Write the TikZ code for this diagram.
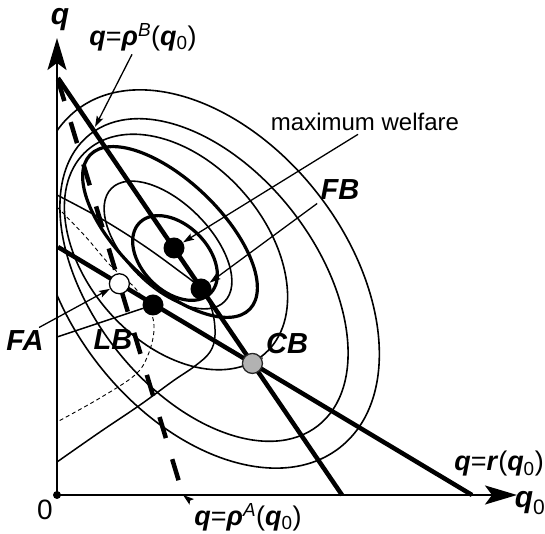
\documentclass[tikz,border=0pt]{standalone}
\usepackage{fontspec}
\setmainfont{Liberation Sans}
\usetikzlibrary{arrows.meta}
\newcommand{\qv}{\textbf{\textit{q}}}
\newcommand{\qz}{\textbf{\textit{q}}\textsubscript{0}}
\begin{document}
\begin{tikzpicture}[x=1pt,y=1pt,
  axis/.style={line width=2pt,-{Stealth[length=32pt,width=19pt,inset=7pt]}},
  resp/.style={line width=4.5pt},
  respA/.style={line width=4.5pt,dash pattern=on 22pt off 22pt},
  wel/.style={line width=1.6pt},
  welthick/.style={line width=3.2pt},
  iso/.style={line width=1.5pt},
  ptr/.style={line width=1.3pt,-{Stealth[length=11pt,width=7pt,inset=2pt]}},
  dotb/.style={circle,fill=black,inner sep=0pt,minimum size=21pt},
  dotw/.style={circle,draw=black,line width=1.3pt,fill=white,inner sep=0pt,minimum size=20pt},
  dotg/.style={circle,draw=black!85,line width=1.3pt,fill=black!30,inner sep=0pt,minimum size=20pt},
  lab/.style={font=\fontsize{29}{32}\selectfont\bfseries\itshape},
  eq/.style={font=\fontsize{27}{30}\selectfont}]
\useasboundingbox (0,0) rectangle (545,534);
% axes
\coordinate (O) at (57,39);
\coordinate (xend) at (517,39);
\coordinate (yend) at (57,496);
\draw[axis] (O) -- (xend);
\draw[axis] (O) -- (yend);
\fill (O) circle (4pt);
% reaction lines
\coordinate (B1) at (58,456); \coordinate (B2) at (342,39);
\coordinate (A1) at (58,454); \coordinate (A2) at (183,39);
\coordinate (R1) at (58,287); \coordinate (R2) at (472,39);
\coordinate (fa) at (intersection of A1--A2 and R1--R2);
\coordinate (cb) at (intersection of B1--B2 and R1--R2);
% welfare contours
\begin{scope}
\clip (57,39) rectangle (545,534);
\foreach \cx/\cy/\a/\b/\r/\s in {175/276/50/33/-45/welthick, 168/289/80/42/-45/wel,
  170/302/111/51/-44/welthick, 176/282/135/90/-49/wel,
  204/254/185/112/-52/wel, 208/255/214/139/-52/wel}
  \draw[\s,rotate around={\r:(\cx,\cy)}] (\cx,\cy) ellipse [x radius=\a, y radius=\b];
\end{scope}
% iso-profit curves
\draw[iso] plot[smooth,tension=0.6] coordinates {(57,339) (100,316) (140,291) (175,266)
  (201,245) (212,224) (215,199) (210,182) (195,168) (173,153) (140,129) (100,102) (57,72)};
\draw[line width=0.9pt,dash pattern=on 4pt off 3pt] plot[smooth,tension=0.6] coordinates {(57,327)
  (85,298) (110,269) (135,246) (150,224) (154,204) (148,179) (135,159) (100,136) (57,112)};
\coordinate (t2) at (57,197);
\draw[resp] (R1) -- (R2);
\draw[resp] (B1) -- (B2);
\draw[respA] (A1) -- (A2);
% points
\node[dotb] (W) at (174,286) {};
\node[dotb] (FB) at (201,245) {};
\node[dotb] (LB) at (153,229) {};
\node[dotw] (FA) at (fa) {};
\node[dotg] (CB) at (cb) {};
\draw[iso] (t2) -- (LB);
% labels
\node[font=\fontsize{30}{32}\selectfont\bfseries\itshape] (lq) at (60,514) {q};
\node[font=\fontsize{30}{32}\selectfont] (lqz) at (530,31) {\qz};
\node[font=\fontsize{28}{30}\selectfont] (l0) at (45,24) {0};
\node[eq] (lr) at (499,70) {\qv=\textbf{\textit{r}}(\qz)};
\node[eq] (lrhoA) at (248,17) {\qv=\textbf{\textit{ρ}}\textsuperscript{\textit{A}}(\qz)};
\node[eq] (lrhoB) at (143,497) {\qv=\textbf{\textit{ρ}}\textsuperscript{\textit{B}}(\qz)};
\node[font=\fontsize{24}{26}\selectfont] (lmax) at (365,412) {maximum welfare};
\node[lab] (lFB) at (340,344) {FB};
\node[lab] (lFA) at (25,193) {FA};
\node[lab] (lLB) at (113,194) {LB};
\node[lab] (lCB) at (287,190) {CB};
% pointers
\draw[ptr] ([xshift=-11pt]lrhoB.south) -- (95,407);
\draw[ptr] ([xshift=-7pt]lmax.south) -- (W);
\draw[ptr] (lFB.south west) -- (FB);
\draw[ptr] ([xshift=-8pt]lFA.north east) -- (FA);
\draw[line width=1.3pt] (lCB.south west) -- (CB);
\draw[ptr] ([xshift=-2pt]lrhoA.north west) -- (A2);
\end{tikzpicture}
\end{document}
